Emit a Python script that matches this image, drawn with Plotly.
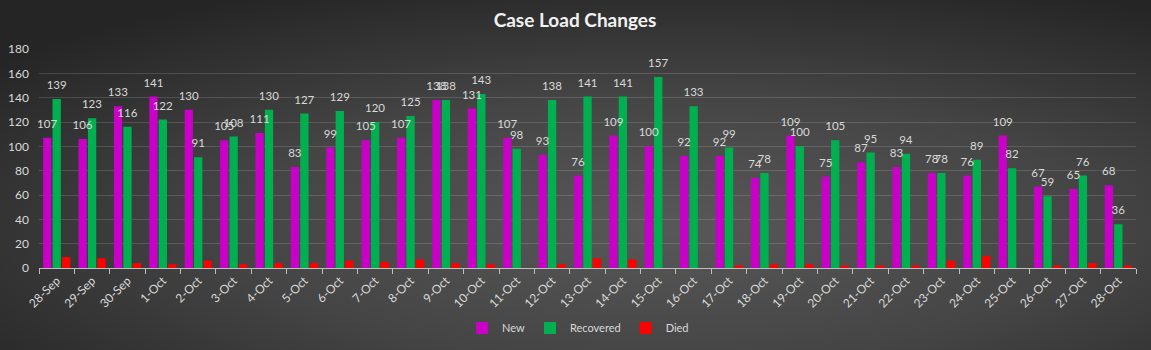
import base64
import plotly.graph_objects as go

dates = ["28-Sep", "29-Sep", "30-Sep"] + [f"{d}-Oct" for d in range(1, 29)]
new_cases = [107, 106, 133, 141, 130, 105, 111, 83, 99, 105, 107, 138, 131, 107, 93, 76,
             109, 100, 92, 92, 74, 109, 75, 87, 83, 78, 76, 109, 67, 65, 68]
recovered = [139, 123, 116, 122, 91, 108, 130, 127, 129, 120, 125, 138, 143, 98, 138, 141,
             141, 157, 133, 99, 78, 100, 105, 95, 94, 78, 89, 82, 59, 76, 36]
died = [9, 8, 4, 3, 6, 3, 4, 4, 6, 5, 7, 4, 3, 0, 3, 8, 7, 0, 0, 2, 3, 3, 2, 2, 2, 6, 10,
        0, 2, 4, 2]
y_ticks = [0, 20, 40, 60, 80, 100, 120, 140, 160, 180]

W, H = 1151, 350
ML, MR, MT, MB = 39, 15, 49, 82
PW, PH = W - ML - MR, H - MT - MB

svg = f'''<svg xmlns="http://www.w3.org/2000/svg" width="{W}" height="{H}" viewBox="0 0 {W} {H}" preserveAspectRatio="none">
<defs><radialGradient id="g" cx="0.58" cy="0.65" r="0.75">
<stop offset="0" stop-color="#585858"/><stop offset="0.5" stop-color="#454545"/><stop offset="1" stop-color="#252525"/>
</radialGradient></defs><rect x="0" y="0" width="{W}" height="{H}" fill="url(#g)"/></svg>'''
bg_src = "data:image/svg+xml;base64," + base64.b64encode(svg.encode()).decode()

FONT = "Lato, 'Open Sans', sans-serif"
label_font = dict(family=FONT, size=11.5, color="#d9d9d9")
LABEL_LIFT = 4  # label padding above bar, in axis units

fig = go.Figure()
fig.add_trace(go.Bar(name="New", x=dates, y=new_cases, offsetgroup="new",
                     marker=dict(color="#c800c8", line_width=0)))
fig.add_trace(go.Bar(name="Recovered", x=dates, y=recovered, offsetgroup="rec",
                     marker=dict(color="#00b050", line_width=0)))
fig.add_trace(go.Bar(name="Died", x=dates, y=died, offsetgroup="died",
                     marker=dict(color="#ff0000", line_width=0)))
# value labels drawn on top of all bars
for vals, grp in ((new_cases, "new"), (recovered, "rec")):
    fig.add_trace(go.Bar(x=dates, y=vals, base=LABEL_LIFT, offsetgroup=grp, showlegend=False,
                         hoverinfo="skip", marker=dict(color="rgba(0,0,0,0)", line_width=0),
                         text=vals, texttemplate="%{text}", textposition="outside",
                         textfont=label_font, constraintext="none", cliponaxis=False))

fig.update_layout(
    width=W, height=H,
    margin=dict(l=ML, r=MR, t=MT, b=MB, autoexpand=False),
    paper_bgcolor="#2e2e2e",
    plot_bgcolor="rgba(0,0,0,0)",
    barmode="group", bargap=0.2, bargroupgap=0.12,
    title=dict(text="<b>Case Load Changes</b>", x=575 / W, xref="container", xanchor="center",
               y=1 - 20 / H, yref="container", yanchor="middle",
               font=dict(family=FONT, size=19, color="#f2f2f2")),
    font=dict(family=FONT, color="#d9d9d9", size=11),
    legend=dict(orientation="h", x=578 / W, xref="container", xanchor="center",
                y=(H - 328) / H, yref="container", yanchor="middle",
                font=dict(family=FONT, size=11, color="#d9d9d9"), bgcolor="rgba(0,0,0,0)",
                itemwidth=30, tracegroupgap=0),
    images=[dict(source=bg_src, xref="paper", yref="paper",
                 x=-ML / PW, y=1 + MT / PH, sizex=W / PW, sizey=H / PH,
                 xanchor="left", yanchor="top", sizing="stretch", layer="below")],
    showlegend=True,
)
fig.update_xaxes(type="category", tickangle=-45, tickfont=dict(family=FONT, size=12, color="#d9d9d9"),
                 showline=True, linecolor="#bfbfbf", linewidth=1, automargin=False,
                 ticks="outside", tickson="boundaries", ticklen=5, tickcolor="#bfbfbf",
                 showgrid=False)
fig.update_yaxes(range=[0, 180], tickvals=y_ticks, ticktext=[str(v) for v in y_ticks],
                 tickfont=dict(family=FONT, size=12, color="#d9d9d9"), automargin=False,
                 showgrid=True, gridcolor="rgba(255,255,255,0.14)", gridwidth=1,
                 zeroline=False, showline=False, ticks="", ticklabelstandoff=9)

fig.write_html("out.html")
